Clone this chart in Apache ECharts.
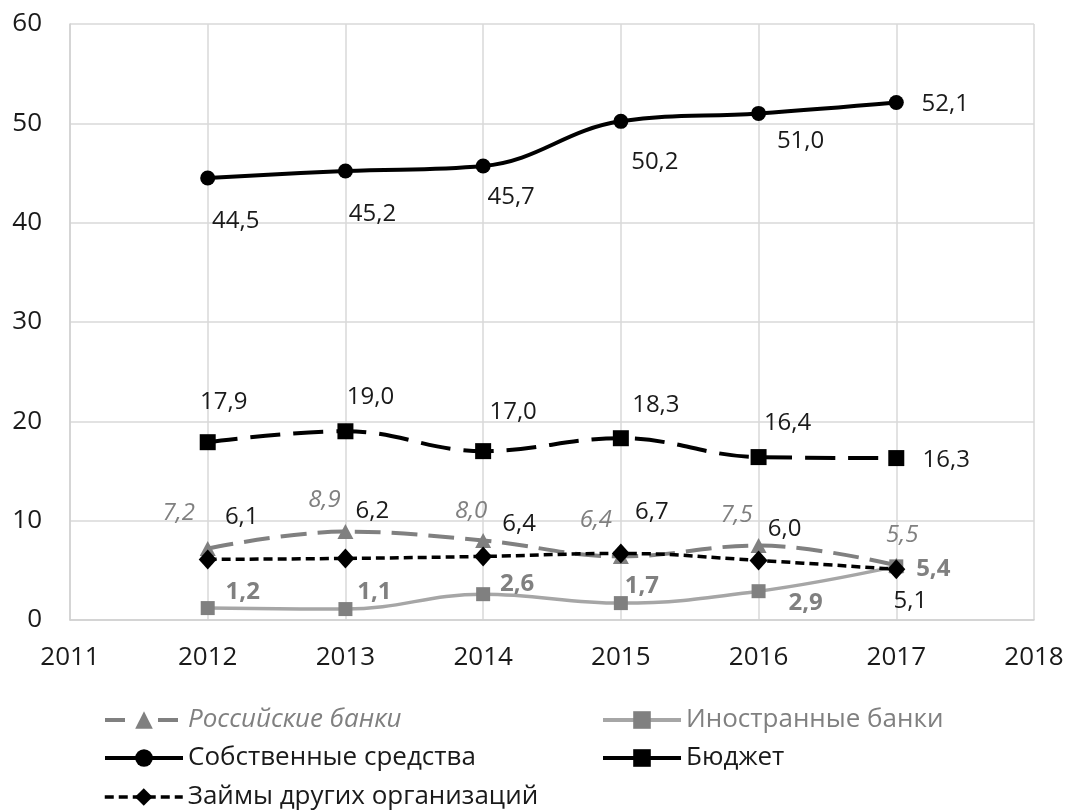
<!DOCTYPE html>
<html>
<head>
<meta charset="utf-8">
<script src="https://cdn.jsdelivr.net/npm/echarts@6/dist/echarts.min.js"></script>
<style>
html,body{margin:0;padding:0;background:#fff;}
#chart{width:1069px;height:812px;}
</style>
</head>
<body>
<div id="chart"></div>
<script>
// ---- data ----
var years = [2012, 2013, 2014, 2015, 2016, 2017];
var xTicks = [2011, 2012, 2013, 2014, 2015, 2016, 2017, 2018];
var yTicks = [0, 10, 20, 30, 40, 50, 60];
var russianBanks = [7.2, 8.9, 8.0, 6.4, 7.5, 5.5];
var foreignBanks = [1.2, 1.1, 2.6, 1.7, 2.9, 5.4];
var ownFunds = [44.5, 45.2, 45.7, 50.2, 51.0, 52.1];
var budget = [17.9, 19.0, 17.0, 18.3, 16.4, 16.3];
var loans = [6.1, 6.2, 6.4, 6.7, 6.0, 5.1];
var seriesNames = ['Российские банки', 'Иностранные банки', 'Собственные средства', 'Бюджет', 'Займы других организаций'];

// ---- label placement (pixel offsets from marker centre) ----
var labelOffsets = {
  russian: [[-29,-35],[-21,-31],[-12,-29],[-25,-36],[-22,-30],[6,-30]],
  foreign: [[35,-16],[29,-17],[34,-10],[21,-17],[47,12],[37,3]],
  own:     [[28,43],[27,43],[28,31],[34,41],[42,28],[49,2]],
  budget:  [[16,-40],[25,-34],[30,-39],[35,-33],[29,-34],[50,2]],
  loans:   [[34,-42],[27,-47],[36,-32],[31,-41],[26,-31],[14,32]]
};

var FONT = '"Open Sans", "DejaVu Sans", sans-serif';

function fmt(v) { return v.toFixed(1).replace('.', ','); }

function buildData(values, offsets) {
  return years.map(function (y, i) {
    return {
      value: [y, values[i]],
      label: { offset: offsets[i] }
    };
  });
}

function makeSeries(name, values, offsets, opts) {
  return {
    name: name,
    type: 'line',
    smooth: 0.4,
    data: buildData(values, offsets),
    symbol: opts.symbol,
    symbolSize: opts.symbolSize,
    itemStyle: { color: opts.markerColor },
    lineStyle: { color: opts.lineColor, width: opts.lineWidth, type: opts.dash, cap: 'butt' },
    emphasis: { disabled: true },
    z: opts.z,
    label: {
      show: true,
      position: 'inside',
      align: 'center',
      verticalAlign: 'middle',
      fontFamily: FONT,
      fontSize: 24,
      color: opts.labelColor,
      fontStyle: opts.labelItalic ? 'italic' : 'normal',
      fontWeight: opts.labelBold ? 'bold' : 'normal',
      formatter: function (p) { return fmt(p.value[1]); }
    }
  };
}

var series = [
  makeSeries(seriesNames[0], russianBanks, labelOffsets.russian, {
    symbol: 'triangle', symbolSize: [16, 15], markerColor: '#808080', lineColor: '#808080',
    lineWidth: 4, dash: [26, 11], labelColor: '#808080', labelItalic: true, z: 2
  }),
  makeSeries(seriesNames[1], foreignBanks, labelOffsets.foreign, {
    symbol: 'rect', symbolSize: 14, markerColor: '#808080', lineColor: '#a6a6a6',
    lineWidth: 3.5, dash: 'solid', labelColor: '#808080', labelBold: true, z: 2
  }),
  makeSeries(seriesNames[2], ownFunds, labelOffsets.own, {
    symbol: 'circle', symbolSize: 15, markerColor: '#000', lineColor: '#000',
    lineWidth: 4, dash: 'solid', labelColor: '#1a1a1a', z: 3
  }),
  makeSeries(seriesNames[3], budget, labelOffsets.budget, {
    symbol: 'rect', symbolSize: 16, markerColor: '#000', lineColor: '#000',
    lineWidth: 4, dash: [30, 13], labelColor: '#1a1a1a', z: 3
  }),
  makeSeries(seriesNames[4], loans, labelOffsets.loans, {
    symbol: 'diamond', symbolSize: [18, 20], markerColor: '#000', lineColor: '#000',
    lineWidth: 3.5, dash: [9, 5], labelColor: '#1a1a1a', z: 4
  })
];

var legendIconLines = [
  { color: '#808080', width: 4, type: [20, 33] },
  { color: '#a6a6a6', width: 4, type: 'solid' },
  { color: '#000', width: 4, type: 'solid' },
  { color: '#000', width: 4, type: 'solid' },
  { color: '#000', width: 3.5, type: [9, 5] }
];

function legendAt(idx, left, centerY, textStyle) {
  return {
    data: [{ name: seriesNames[idx], textStyle: textStyle, lineStyle: legendIconLines[idx] }],
    left: left,
    top: centerY - 16,
    padding: 0,
    itemWidth: 78,
    itemHeight: 22,
    selectedMode: false,
    textStyle: { fontFamily: FONT, fontSize: 26, lineHeight: 32, color: '#1a1a1a' }
  };
}

var legendBase = { fontFamily: FONT, fontSize: 26, lineHeight: 32 };
var legends = [
  legendAt(0, 103, 720, Object.assign({}, legendBase, { color: '#808080', fontStyle: 'italic' })),
  legendAt(1, 601, 720, Object.assign({}, legendBase, { color: '#808080' })),
  legendAt(2, 103, 758, Object.assign({}, legendBase, { color: '#1a1a1a' })),
  legendAt(3, 601, 758, Object.assign({}, legendBase, { color: '#1a1a1a' })),
  legendAt(4, 103, 797, Object.assign({}, legendBase, { color: '#1a1a1a' }))
];

var chart = echarts.init(document.getElementById('chart'), null, { renderer: 'canvas' });
chart.setOption({
  animation: false,
  backgroundColor: '#fff',
  grid: { left: 70, right: 35, top: 24, bottom: 192, containLabel: false },
  legend: legends,
  xAxis: {
    type: 'value',
    min: xTicks[0],
    max: xTicks[xTicks.length - 1],
    interval: 1,
    axisLine: { show: true, lineStyle: { color: '#d0d0d0', width: 1.5 } },
    axisTick: { show: false },
    splitLine: { show: true, lineStyle: { color: '#d9d9d9', width: 1.5 } },
    axisLabel: {
      margin: 25,
      fontFamily: FONT,
      fontSize: 26,
      color: '#1a1a1a',
      formatter: function (v) { return String(v); }
    }
  },
  yAxis: {
    type: 'value',
    min: yTicks[0],
    max: yTicks[yTicks.length - 1],
    interval: 10,
    axisLine: { show: true, lineStyle: { color: '#d0d0d0', width: 1.5 } },
    axisTick: { show: false },
    splitLine: { show: true, lineStyle: { color: '#d9d9d9', width: 1.5 } },
    axisLabel: {
      margin: 28,
      fontFamily: FONT,
      fontSize: 26,
      color: '#1a1a1a'
    }
  },
  series: series
});
</script>
</body>
</html>
